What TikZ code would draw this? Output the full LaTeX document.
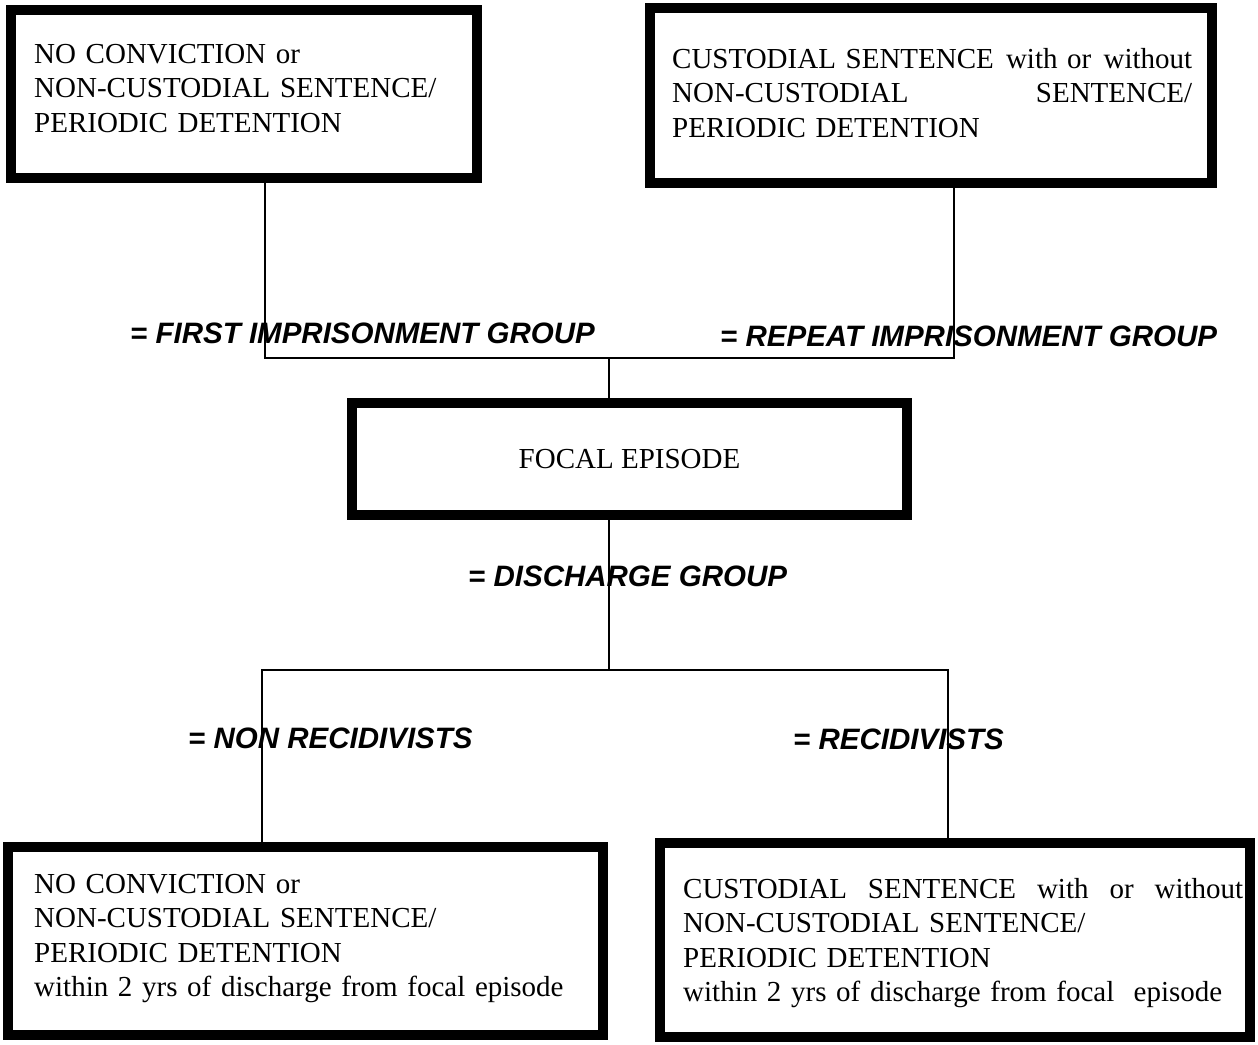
\documentclass[tikz,border=0pt]{standalone}
\usepackage{fontspec}
\setmainfont{Liberation Serif}
\setsansfont{Liberation Sans}
\usetikzlibrary{positioning}

\begin{document}
\begin{tikzpicture}[x=1pt,y=-1pt,font=\fontsize{29}{34.5}\selectfont,
    box/.style={draw,line width=9.5pt,inner sep=0pt},
    txt/.style={align=left,anchor=base west,inner sep=0pt},
    grp/.style={font=\fontsize{29.5}{34}\selectfont\sffamily\bfseries\itshape,anchor=base west,inner sep=0pt},
    link/.style={line width=1.5pt}]
    \useasboundingbox (0,0) rectangle (1258,1044);

    % boxes
    \node[box,minimum width=466pt,minimum height=168pt] (b1) at (244,94) {};
    \node[box,minimum width=562pt,minimum height=175pt] (b2) at (931,95.5) {};
    \node[box,minimum width=555pt,minimum height=112pt] (fe) at (629.5,459) {FOCAL EPISODE};
    \node[box,minimum width=595pt,minimum height=188pt] (b3) at (305.5,941) {};
    \node[box,minimum width=590pt,minimum height=194pt] (b4) at (955,940) {};

    % box texts
    \node[txt,text width=420pt] (t1) at (34,63) {NO CONVICTION or\\NON-CUSTODIAL SENTENCE/\\PERIODIC DETENTION};
    \node[txt,text width=520pt] (t2) at (672,68)
      {CUSTODIAL SENTENCE \hfill with or \hfill without\\NON-CUSTODIAL\hfill SENTENCE/\\PERIODIC DETENTION};
    \node[txt,text width=540pt] (t3) at (34,893)
      {NO CONVICTION or\\NON-CUSTODIAL SENTENCE/\\PERIODIC DETENTION\\\makebox[527pt][s]{within 2 yrs of discharge from focal episode}};
    \node[txt,text width=560pt] (t4) at (683,898)
      {CUSTODIAL \hfill SENTENCE \hfill with \hfill or \hfill without\\NON-CUSTODIAL SENTENCE/\\PERIODIC DETENTION\\\makebox[541pt][s]{within 2 yrs of discharge from focal\ \ episode}};

    % junctions
    \coordinate (l1) at (265,358);
    \coordinate (r1) at (954,358);
    \coordinate (jt) at (609,358);
    \coordinate (jb) at (609,670);
    \coordinate (l2) at (262,670);
    \coordinate (r2) at (948,670);

    \draw[link] (b1.south -| l1) -- (l1) -- (r1) -- (b2.south -| r1);
    \draw[link] (jt) -- (fe.north -| jt);
    \draw[link] (fe.south -| jb) -- (jb);
    \draw[link] (b3.north -| l2) -- (l2) -- (r2) -- (b4.north -| r2);

    % group labels
    \node[grp] (g1) at (130,343) {= FIRST IMPRISONMENT GROUP};
    \node[grp] (g2) at (720,346) {= REPEAT IMPRISONMENT GROUP};
    \node[grp] (g3) at (468,586) {= DISCHARGE GROUP};
    \node[grp] (g4) at (188,748) {= NON RECIDIVISTS};
    \node[grp] (g5) at (793,749) {= RECIDIVISTS};
\end{tikzpicture}
\end{document}
